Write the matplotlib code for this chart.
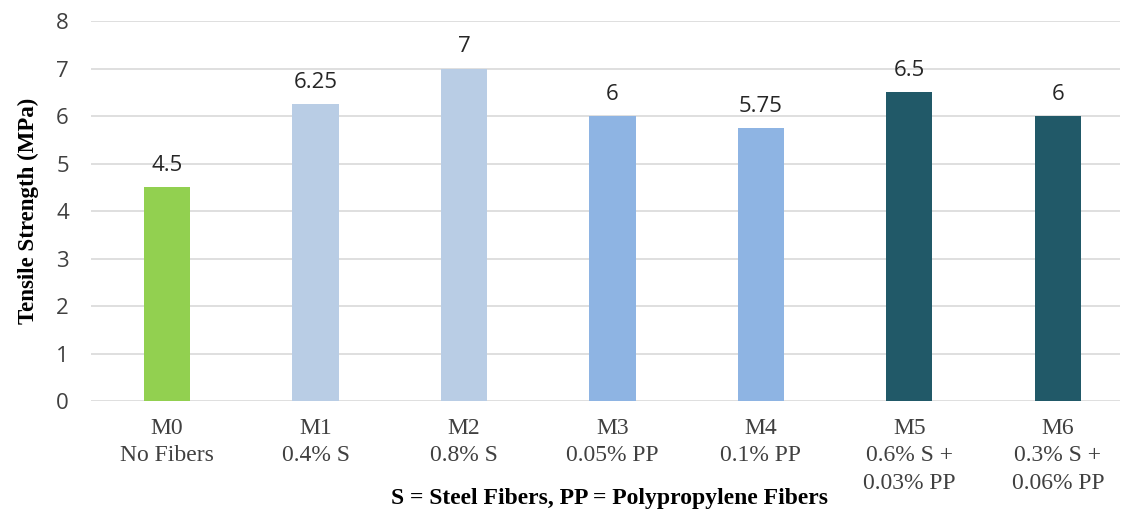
import matplotlib.pyplot as plt

categories = ["M0\nNo Fibers", "M1\n0.4% S", "M2\n0.8% S", "M3\n0.05% PP",
              "M4\n0.1% PP", "M5\n0.6% S +\n0.03% PP", "M6\n0.3% S +\n0.06% PP"]
values = [4.5, 6.25, 7, 6, 5.75, 6.5, 6]
value_labels = ["4.5", "6.25", "7", "6", "5.75", "6.5", "6"]
colors = ["#92D050", "#B9CDE5", "#B9CDE5", "#8EB4E3", "#8EB4E3", "#215968", "#215968"]

fig = plt.figure(figsize=(11.26, 5.13), dpi=100)
ax = fig.add_axes([0.0808, 0.2183, 0.9139, 0.7407])

x = range(len(categories))
bars = ax.bar(x, values, width=0.31, color=colors, zorder=3)

for b, lab in zip(bars, value_labels):
    ax.annotate(lab, (b.get_x() + b.get_width() / 2, b.get_height()),
                xytext=(0, 8), textcoords="offset points", ha="center", va="bottom",
                fontsize=16, family="Open Sans", color="#262626")

ax.set_xlim(-0.512, 6.418)
ax.set_ylim(0, 8)
ax.set_yticks(range(0, 9))
ax.yaxis.grid(True, color="#D9D9D9", linewidth=1.2, zorder=0)
for s in ax.spines.values():
    s.set_visible(False)
ax.tick_params(axis="both", length=0)
ax.tick_params(axis="y", labelsize=16, labelcolor="#404040", pad=16)
for t in ax.get_yticklabels():
    t.set_family("Open Sans")

ax.set_xticks(list(x))
ax.set_xticklabels(categories, family="Liberation Serif", fontsize=17,
                   color="#404040", linespacing=1.42)
ax.tick_params(axis="x", pad=12)

ax.set_ylabel("Tensile Strength (MPa)", family="Liberation Serif",
              fontweight="bold", fontsize=16.5, labelpad=12)
fig.text(0.541, 0.029, "S = Steel Fibers, PP = Polypropylene Fibers",
         family="Liberation Serif", fontweight="bold", fontsize=17,
         ha="center", va="center")

fig.savefig("out.png", dpi=100)
